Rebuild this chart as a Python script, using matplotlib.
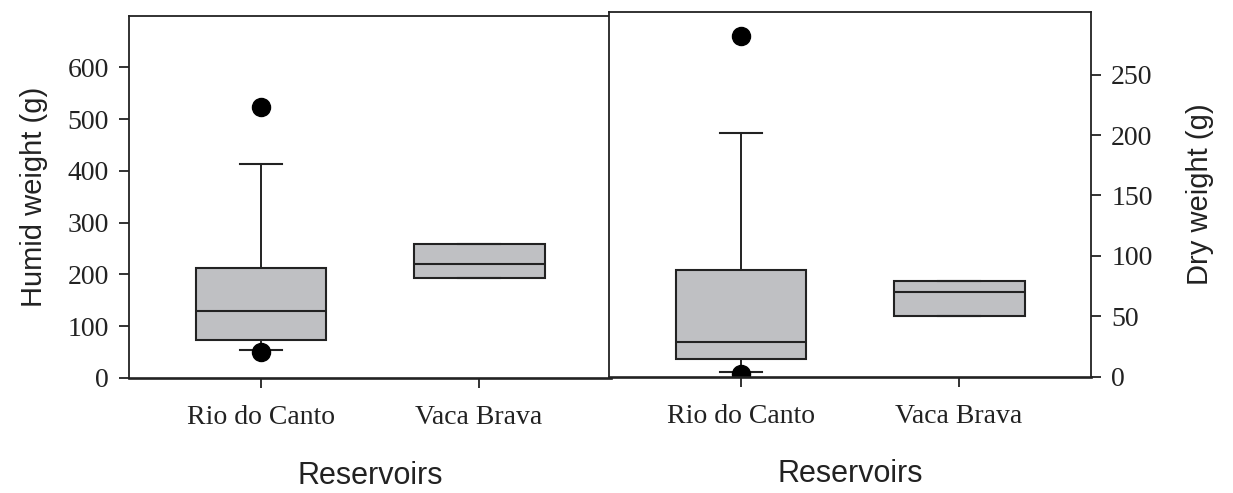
import matplotlib
matplotlib.use("Agg")
import matplotlib.pyplot as plt

# data (box stats per reservoir)
reservoirs = ["Rio do Canto", "Vaca Brava"]

humid_q1 = [73, 194]
humid_med = [130, 220]
humid_q3 = [213, 258]
humid_lo = [55, 194]
humid_hi = [414, 258]
humid_fliers = [[523, 50], []]

dry_q1 = [14.6, 50]
dry_med = [29, 70.5]
dry_q3 = [88, 79]
dry_lo = [3.6, 50]
dry_hi = [202, 79]
dry_fliers = [[282, 2.2], []]

line_c = "#222222"
box_c = "#bfc0c3"
tick_font = "Liberation Serif"
label_font = "Liberation Sans"


def make_stats(q1, med, q3, lo, hi, fl):
    stats = []
    for i in range(len(reservoirs)):
        stats.append({"q1": q1[i], "med": med[i], "q3": q3[i],
                      "whislo": lo[i], "whishi": hi[i],
                      "fliers": fl[i], "label": reservoirs[i]})
    return stats


def draw(ax, stats):
    ax.bxp(stats, positions=[1, 2], widths=0.6, patch_artist=True,
           showfliers=True,
           boxprops=dict(facecolor=box_c, edgecolor=line_c, linewidth=1.5),
           medianprops=dict(color=line_c, linewidth=1.5),
           whiskerprops=dict(color=line_c, linewidth=1.4),
           capprops=dict(color=line_c, linewidth=1.5),
           capwidths=0.19,
           flierprops=dict(marker="o", markerfacecolor="black",
                           markeredgecolor="black", markersize=13))
    ax.set_xlim(0.395, 2.605)
    for s in ax.spines.values():
        s.set_color(line_c)
        s.set_linewidth(1.3)
    ax.spines["bottom"].set_linewidth(1.9)
    ax.tick_params(axis="both", direction="out", length=7.5, width=1.3,
                   color=line_c, labelcolor=line_c, labelsize=20, pad=7)
    ax.tick_params(axis="x", pad=12)
    for lab in ax.get_xticklabels() + ax.get_yticklabels():
        lab.set_fontfamily(tick_font)
    ax.set_xlabel("Reservoirs", fontsize=22, family=label_font,
                  color=line_c, labelpad=22)


fig = plt.figure(figsize=(12.33, 4.93), dpi=100)

ax1 = fig.add_axes([0.1046, 0.2333, 0.391, 0.735])
draw(ax1, make_stats(humid_q1, humid_med, humid_q3, humid_lo, humid_hi, humid_fliers))
ax1.set_ylim(0, 700)
ax1.set_yticks(range(0, 700, 100))
for lab in ax1.get_yticklabels():
    lab.set_fontfamily(tick_font)
ax1.set_ylabel("Humid weight (g)", fontsize=21, family=label_font,
               color=line_c, labelpad=14)

ax2 = fig.add_axes([0.4939, 0.2359, 0.391, 0.740])
draw(ax2, make_stats(dry_q1, dry_med, dry_q3, dry_lo, dry_hi, dry_fliers))
ax2.set_ylim(0, 302)
ax2.set_yticks(range(0, 300, 50))
ax2.yaxis.tick_right()
ax2.yaxis.set_label_position("right")
for lab in ax2.get_yticklabels():
    lab.set_fontfamily(tick_font)
ax2.set_ylabel("Dry weight (g)", fontsize=21, family=label_font,
               color=line_c, labelpad=24)

fig.savefig("out.png", dpi=100)
